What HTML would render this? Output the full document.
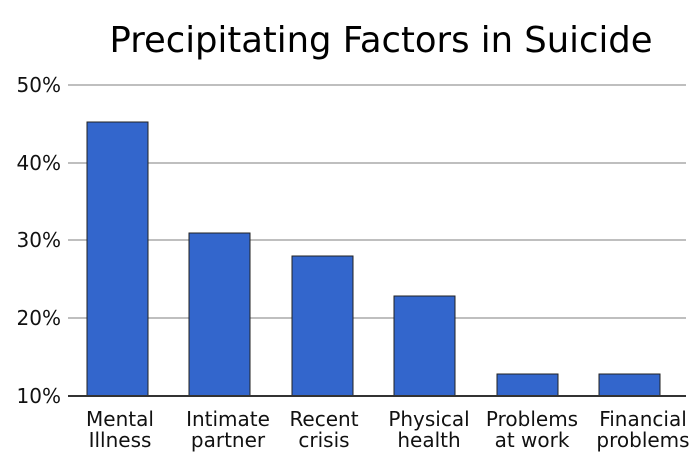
<!DOCTYPE html>
<html><head><style>body{margin:0;background:#fff}</style></head><body>
<svg width="700" height="467" xmlns="http://www.w3.org/2000/svg" font-family="'DejaVu Sans', sans-serif">
<rect width="700" height="467" fill="#fff"/>
<text x="381" y="52" font-size="35.4" text-anchor="middle" fill="#000">Precipitating Factors in Suicide</text>
<g stroke="#aaa" stroke-width="1.5">
<line x1="68" x2="686" y1="85" y2="85"/>
<line x1="68" x2="686" y1="163" y2="163"/>
<line x1="68" x2="686" y1="240" y2="240"/>
<line x1="68" x2="686" y1="318" y2="318"/>
</g>
<g fill="#3366cc" stroke="#222" stroke-width="1">
<rect x="87" y="122" width="61" height="274"/>
<rect x="189" y="233" width="61" height="163"/>
<rect x="292" y="256" width="61" height="140"/>
<rect x="394" y="296" width="61" height="100"/>
<rect x="497" y="374" width="61" height="22"/>
<rect x="599" y="374" width="61" height="22"/>
</g>
<line x1="68" x2="686" y1="396" y2="396" stroke="#333" stroke-width="2"/>
<g font-size="20" text-anchor="end" fill="#111">
<text x="61" y="92">50%</text>
<text x="61" y="170">40%</text>
<text x="61" y="247">30%</text>
<text x="61" y="325">20%</text>
<text x="61" y="403">10%</text>
</g>
<g font-size="20" text-anchor="middle" fill="#111">
<text x="120" y="426">Mental</text><text x="120" y="447">Illness</text>
<text x="228" y="426">Intimate</text><text x="228" y="447">partner</text>
<text x="324" y="426">Recent</text><text x="324" y="447">crisis</text>
<text x="429" y="426">Physical</text><text x="429" y="447">health</text>
<text x="532" y="426">Problems</text><text x="532" y="447">at work</text>
<text x="643" y="426">Financial</text><text x="643" y="447">problems</text>
</g>
</svg>
</body></html>
